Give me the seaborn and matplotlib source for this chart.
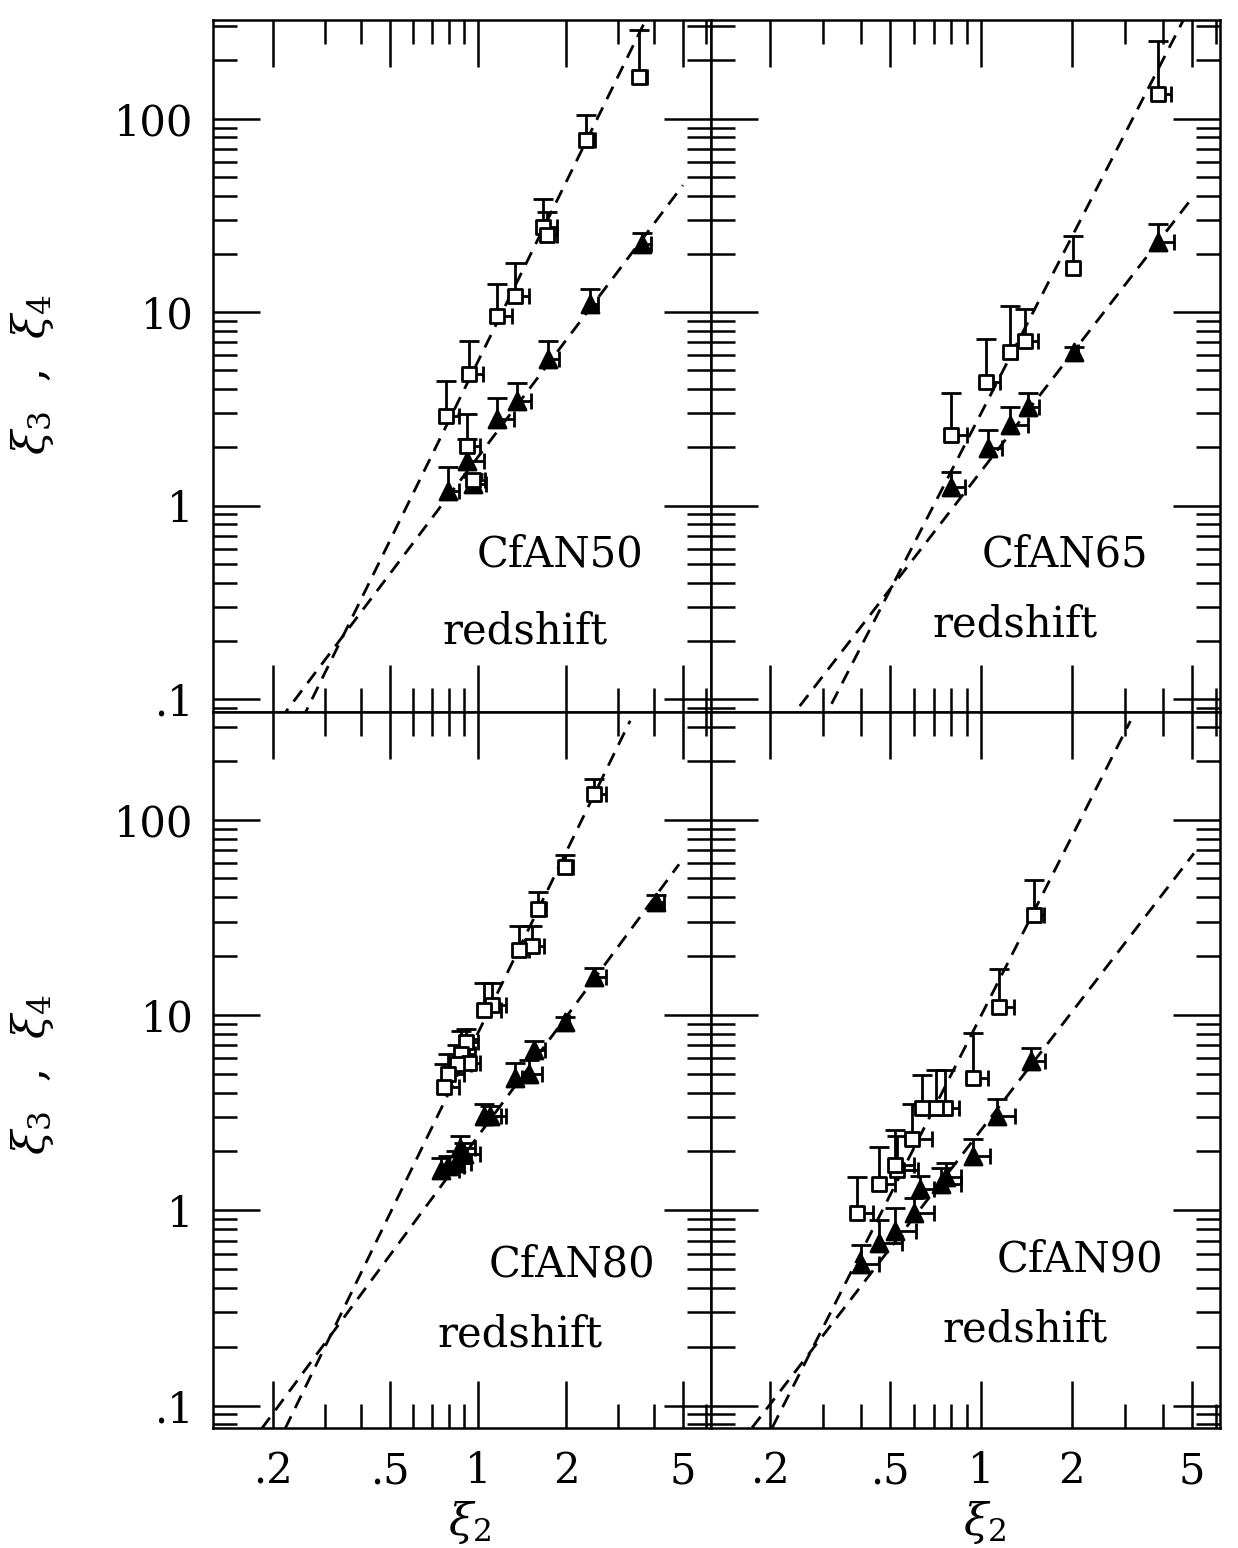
import numpy as np
import pandas as pd
import matplotlib
matplotlib.use("Agg")
import matplotlib.pyplot as plt
import seaborn as sns
from matplotlib.ticker import FixedLocator, FixedFormatter, NullFormatter

# ---------------- data ----------------
# open squares = xi_4, filled triangles = xi_3 ; *_ytop = upper end of the
# vertical error bar, *_xhi = right end of the horizontal error bar

# CfAN50
n50_sq_x    = [3.56, 2.34, 1.67, 1.72, 1.34, 1.16, 0.93, 0.78, 0.92, 0.96]
n50_sq_y    = [165, 78, 27.5, 25.0, 12.1, 9.5, 4.77, 2.91, 2.04, 1.35]
n50_sq_ytop = [289, 104, 38.5, 33.0, 17.9, 14.0, 7.1, 4.4, 2.97, 1.45]
n50_sq_xhi  = [3.79, 2.52, 1.86, 1.86, 1.49, 1.31, 1.04, 0.86, 1.02, 1.06]
n50_tr_x    = [3.62, 2.41, 1.73, 1.36, 1.16, 0.92, 0.79, 0.96]
n50_tr_y    = [22.4, 11.0, 5.7, 3.48, 2.80, 1.71, 1.19, 1.30]
n50_tr_ytop = [25.6, 13.1, 7.1, 4.32, 3.62, 2.2, 1.58, 1.40]
n50_tr_xhi  = [3.91, 2.57, 1.90, 1.52, 1.33, 1.05, 0.86, 1.07]
n50_fit4_x, n50_fit4_y = [0.251, 3.70], [0.078, 313]
n50_fit3_x, n50_fit3_y = [0.211, 5.01], [0.078, 45.3]

# CfAN65
n65_sq_x    = [3.85, 2.02, 1.40, 1.25, 1.04, 0.80]
n65_sq_y    = [135, 17.0, 7.1, 6.2, 4.36, 2.33]
n65_sq_ytop = [252, 24.9, 10.4, 10.7, 7.3, 3.8]
n65_sq_xhi  = [4.26, 2.12, 1.55, 1.32, 1.16, 0.90]
n65_tr_x    = [3.87, 2.04, 1.43, 1.25, 1.06, 0.80]
n65_tr_y    = [23.0, 6.2, 3.23, 2.6, 1.98, 1.25]
n65_tr_ytop = [28.5, 6.6, 3.8, 3.23, 2.45, 1.5]
n65_tr_xhi  = [4.35, 2.10, 1.56, 1.43, 1.18, 0.89]
n65_fit4_x, n65_fit4_y = [0.296, 4.77], [0.074, 341]
n65_fit3_x, n65_fit3_y = [0.226, 4.99], [0.074, 38.6]

# CfAN80
n80_sq_x    = [2.49, 1.98, 1.60, 1.53, 1.38, 1.12, 1.05, 0.91, 0.88, 0.93, 0.85, 0.79, 0.77]
n80_sq_y    = [136, 57.5, 34.9, 22.5, 21.6, 11.3, 10.6, 7.3, 6.3, 5.7, 5.6, 5.0, 4.3]
n80_sq_ytop = [161, 66, 42.6, 28.5, 28.5, 14.6, 14.6, 8.5, 8.3, 7.5, 7.0, 6.3, 5.6]
n80_sq_xhi  = [2.73, 2.11, 1.71, 1.68, 1.50, 1.25, 1.20, 1.00, 0.98, 1.02, 0.95, 0.90, 0.86]
n80_tr_x    = [4.04, 2.49, 1.98, 1.56, 1.49, 1.34, 1.05, 1.10, 0.87, 0.90, 0.84, 0.79, 0.75]
n80_tr_y    = [37.9, 15.6, 9.2, 6.6, 5.0, 4.73, 3.03, 3.05, 2.08, 1.95, 1.75, 1.68, 1.60]
n80_tr_ytop = [41, 17.4, 9.8, 7.4, 5.9, 5.7, 3.5, 3.4, 2.4, 2.2, 2.0, 1.9, 1.85]
n80_tr_xhi  = [4.31, 2.73, 2.05, 1.69, 1.65, 1.42, 1.25, 1.20, 0.98, 1.02, 0.95, 0.90, 0.86]
n80_fit4_x, n80_fit4_y = [0.22, 3.31], [0.076, 321]
n80_fit3_x, n80_fit3_y = [0.183, 4.86], [0.076, 59.1]

# CfAN90
n90_sq_x    = [1.50, 1.15, 0.94, 0.76, 0.71, 0.64, 0.59, 0.53, 0.52, 0.46, 0.39]
n90_sq_y    = [32.6, 11.0, 4.76, 3.35, 3.35, 3.32, 2.31, 1.61, 1.70, 1.36, 0.97]
n90_sq_ytop = [49, 17.2, 8.1, 5.2, 5.2, 4.9, 3.5, 2.4, 2.58, 2.12, 1.48]
n90_sq_xhi  = [1.62, 1.29, 1.06, 0.85, 0.80, 0.72, 0.69, 0.62, 0.60, 0.52, 0.44]
n90_tr_x    = [1.47, 1.13, 0.94, 0.77, 0.74, 0.63, 0.60, 0.52, 0.46, 0.40]
n90_tr_y    = [5.79, 3.05, 1.90, 1.48, 1.36, 1.28, 0.97, 0.78, 0.68, 0.53]
n90_tr_ytop = [6.8, 3.7, 2.31, 1.75, 1.65, 1.5, 1.15, 1.03, 0.89, 0.66]
n90_tr_xhi  = [1.63, 1.30, 1.07, 0.86, 0.86, 0.70, 0.70, 0.61, 0.55, 0.46]
n90_fit4_x, n90_fit4_y = [0.204, 3.13], [0.077, 320]
n90_fit3_x, n90_fit3_y = [0.175, 5.08], [0.077, 67.2]

panel_names = ["CfAN50", "CfAN65", "CfAN80", "CfAN90"]
x_major = [0.2, 0.5, 1, 2, 5]
x_major_labels = [".2", ".5", "1", "2", "5"]
x_minor = [0.3, 0.4, 0.6, 0.7, 0.8, 0.9, 3, 4, 6]
y_major = [0.1, 1, 10, 100]
y_major_labels = [".1", "1", "10", "100"]
y_minor = [m * d for d in (0.01, 0.1, 1, 10, 100) for m in range(2, 10)]

# ---------------- style ----------------
sns.set_theme(style="white")
plt.rcParams["font.family"] = ["DejaVu Serif"]
plt.rcParams["mathtext.fontset"] = "dejavuserif"
plt.rcParams["axes.linewidth"] = 1.8
plt.rcParams["axes.edgecolor"] = "black"
plt.rcParams["text.color"] = "black"
plt.rcParams["xtick.color"] = "black"
plt.rcParams["ytick.color"] = "black"
plt.rcParams["xtick.labelcolor"] = "black"
plt.rcParams["ytick.labelcolor"] = "black"

fig = plt.figure(figsize=(12.38, 15.48), dpi=100)
gs = fig.add_gridspec(2, 2, left=0.1721, right=0.9855, top=0.9871, bottom=0.0775,
                      wspace=0, hspace=0, width_ratios=[498, 509],
                      height_ratios=[692, 716])

panels = [
    dict(sq=(n50_sq_x, n50_sq_y, n50_sq_ytop, n50_sq_xhi),
         tr=(n50_tr_x, n50_tr_y, n50_tr_ytop, n50_tr_xhi),
         f4=(n50_fit4_x, n50_fit4_y), f3=(n50_fit3_x, n50_fit3_y),
         xlim=(0.125, 6.25), ylim=(0.0857, 324),
         t1=(0.697, 0.227), t2=(0.627, 0.116)),
    dict(sq=(n65_sq_x, n65_sq_y, n65_sq_ytop, n65_sq_xhi),
         tr=(n65_tr_x, n65_tr_y, n65_tr_ytop, n65_tr_xhi),
         f4=(n65_fit4_x, n65_fit4_y), f3=(n65_fit3_x, n65_fit3_y),
         xlim=(0.128, 6.2), ylim=(0.0857, 324),
         t1=(0.695, 0.227), t2=(0.597, 0.126)),
    dict(sq=(n80_sq_x, n80_sq_y, n80_sq_ytop, n80_sq_xhi),
         tr=(n80_tr_x, n80_tr_y, n80_tr_ytop, n80_tr_xhi),
         f4=(n80_fit4_x, n80_fit4_y), f3=(n80_fit3_x, n80_fit3_y),
         xlim=(0.125, 6.25), ylim=(0.0767, 356),
         t1=(0.721, 0.228), t2=(0.616, 0.130)),
    dict(sq=(n90_sq_x, n90_sq_y, n90_sq_ytop, n90_sq_xhi),
         tr=(n90_tr_x, n90_tr_y, n90_tr_ytop, n90_tr_xhi),
         f4=(n90_fit4_x, n90_fit4_y), f3=(n90_fit3_x, n90_fit3_y),
         xlim=(0.128, 6.2), ylim=(0.0767, 356),
         t1=(0.725, 0.235), t2=(0.617, 0.137)),
]

LW = 2.0
for i, (p, name) in enumerate(zip(panels, panel_names)):
    r, c = divmod(i, 2)
    ax = fig.add_subplot(gs[r, c])
    ax.set_xscale("log")
    ax.set_yscale("log")

    # fitted power laws (dashed)
    for fx, fy in (p["f4"], p["f3"]):
        df = pd.DataFrame({"x": fx, "y": fy})
        sns.lineplot(data=df, x="x", y="y", ax=ax, color="black", lw=LW,
                     linestyle=(0, (5, 3.3)), estimator=None, sort=False,
                     errorbar=None, zorder=2)

    # one-sided error bars + markers
    for key, marker, size, face in (("tr", "^", 150, "black"), ("sq", "s", 105, "white")):
        x, y, ytop, xhi = p[key]
        ax.vlines(x, y, ytop, color="black", lw=LW, zorder=3)
        ax.plot(x, ytop, ls="none", marker="_", ms=14, mew=LW, color="black", zorder=3)
        ax.hlines(y, x, xhi, color="black", lw=LW, zorder=3)
        ax.plot(xhi, y, ls="none", marker="|", ms=12, mew=LW, color="black", zorder=3)
        df = pd.DataFrame({"x": x, "y": y})
        sns.scatterplot(data=df, x="x", y="y", ax=ax, marker=marker, s=size,
                        facecolor=face, edgecolor="black", linewidth=LW,
                        zorder=4, legend=False)

    ax.set_xlim(*p["xlim"])
    ax.set_ylim(*p["ylim"])

    ax.xaxis.set_major_locator(FixedLocator(x_major))
    ax.xaxis.set_minor_locator(FixedLocator(x_minor))
    ax.yaxis.set_major_locator(FixedLocator(y_major))
    ax.yaxis.set_minor_locator(FixedLocator(y_minor))
    ax.xaxis.set_minor_formatter(NullFormatter())
    ax.yaxis.set_minor_formatter(NullFormatter())
    if r == 1:
        ax.xaxis.set_major_formatter(FixedFormatter(x_major_labels))
    else:
        ax.xaxis.set_major_formatter(NullFormatter())
    if c == 0:
        ax.yaxis.set_major_formatter(FixedFormatter(y_major_labels))
    else:
        ax.yaxis.set_major_formatter(NullFormatter())

    ax.tick_params(which="both", direction="in", top=True, bottom=True,
                   left=True, right=True, color="black", width=1.8)
    ax.tick_params(which="major", length=34)
    ax.tick_params(which="minor", length=17)
    ax.tick_params(axis="y", which="major", labelsize=30, pad=14)
    ax.tick_params(axis="x", which="major", labelsize=30, pad=16)
    ax.set_xlabel("")
    ax.set_ylabel("")
    for s in ax.spines.values():
        s.set_color("black")
        s.set_linewidth(1.8)

    ax.text(*p["t1"], name, transform=ax.transAxes, ha="center", va="center",
            fontsize=30, color="black")
    ax.text(*p["t2"], "redshift", transform=ax.transAxes, ha="center",
            va="center", fontsize=30, color="black")

# axis titles
for yc in (1 - 375 / 1548, 1 - 1075 / 1548):
    fig.text(33 / 1238, yc, r"$\xi_3$  ,  $\xi_4$", rotation=90, ha="center",
             va="center", fontsize=32, color="black")
for xc in (470 / 1238, 985 / 1238):
    fig.text(xc, 1 - 1522 / 1548, r"$\xi_2$", ha="center", va="center",
             fontsize=32, color="black")

fig.savefig("out.png", dpi=100, facecolor="white")
